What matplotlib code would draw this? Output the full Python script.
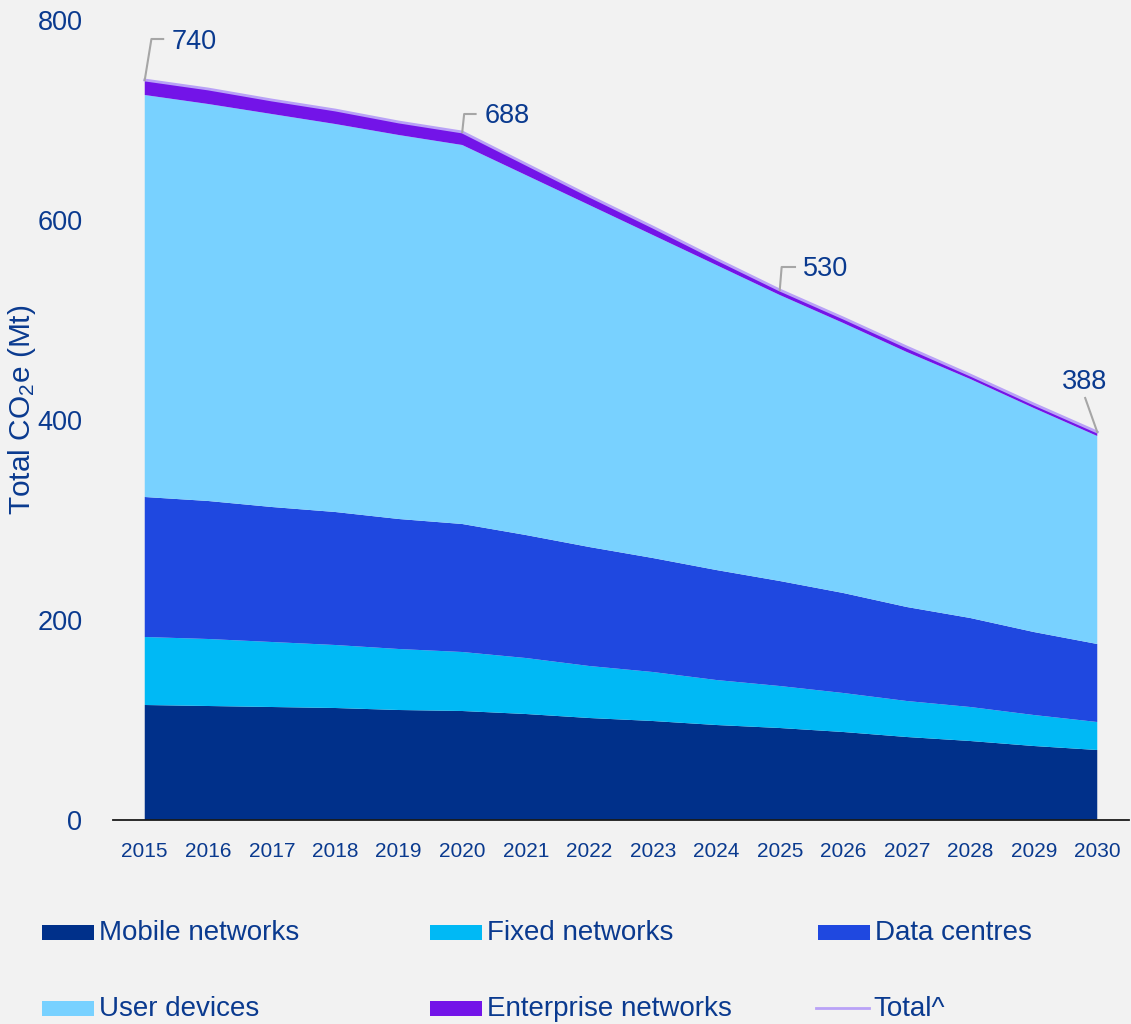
import matplotlib
matplotlib.use('Agg')
import matplotlib.pyplot as plt
from matplotlib.patches import Rectangle
from matplotlib.lines import Line2D

plt.rcParams['font.family'] = ['Liberation Sans', 'DejaVu Sans']
plt.rcParams['mathtext.fontset'] = 'custom'
plt.rcParams['mathtext.rm'] = 'Liberation Sans'
plt.rcParams['mathtext.it'] = 'Liberation Sans'

years = list(range(2015, 2031))
mobile = [115, 114, 113, 112, 110, 109, 106, 102, 99, 95, 92, 88, 83, 79, 74, 70]
fixed = [68, 67, 65, 63, 61, 59, 56, 52, 49, 45, 42, 39, 36, 34, 31, 28]
data_centres = [140, 138, 135, 133, 130, 128, 123, 119, 114, 110, 105, 100, 94, 89, 83, 78]
user_devices = [402, 397, 393, 388, 384, 379, 360, 342, 323, 305, 286, 270, 255, 239, 224, 208]
enterprise = [15, 15, 14, 14, 13, 13, 11, 9, 8, 6, 5, 5, 5, 4, 4, 4]
total = [740, 731, 720, 710, 698, 688, 656, 624, 593, 561, 530, 502, 473, 445, 416, 388]

labelled_years = [2015, 2020, 2025, 2030]
labelled_values = [740, 688, 530, 388]

series_names = ['Mobile networks', 'Fixed networks', 'Data centres',
                'User devices', 'Enterprise networks']
colors = ['#00308A', '#00B9F5', '#1F48E0', '#78D1FF', '#7314E8']
total_color = '#B9A2F7'
text_color = '#0A3A8F'
bg = '#F2F2F2'

W, H = 1131, 1024
fig = plt.figure(figsize=(W / 100, H / 100), dpi=100, facecolor=bg)
ax = fig.add_axes([113 / W, 1 - 820 / H, (1129 - 113) / W, 800 / H])
ax.set_facecolor(bg)

ax.stackplot(years, mobile, fixed, data_centres, user_devices, enterprise,
             colors=colors, linewidth=0, antialiased=True)
ax.plot(years, total, color=total_color, lw=2.0, solid_joinstyle='round')

ax.set_xlim(2014.5, 2030.5)
ax.set_ylim(0, 800)
ax.set_xticks(years)
ax.set_xticklabels([str(y) for y in years], fontsize=15, color=text_color)
ax.set_yticks([0, 200, 400, 600, 800])
ax.set_yticklabels(['0', '200', '400', '600', '800'], fontsize=19.5, color=text_color)
ax.tick_params(axis='both', length=0)
ax.tick_params(axis='x', pad=16)
ax.tick_params(axis='y', pad=22)
for s in ['left', 'right', 'top']:
    ax.spines[s].set_visible(False)
ax.spines['bottom'].set_color('#1a1a1a')
ax.spines['bottom'].set_linewidth(1.3)

fig.text(22 / W, 1 - 410 / H, r'Total CO$_2$e (Mt)', rotation=90,
         ha='center', va='center', fontsize=21.5, color=text_color)

# annotations with leader lines
lead = '#A6A6A6'
ann = {
    2015: dict(mid=(2015.105, 781), end=(2015.29, 781), txt=(2015.42, 778), ha='left'),
    2020: dict(mid=(2020.03, 706), end=(2020.21, 706), txt=(2020.36, 704), ha='left'),
    2025: dict(mid=(2025.03, 553), end=(2025.24, 553), txt=(2025.36, 551), ha='left'),
    2030: dict(mid=(2029.81, 422), end=None, txt=(2029.8, 438), ha='center'),
}
for yr, val in zip(labelled_years, labelled_values):
    a = ann[yr]
    xs = [yr, a['mid'][0]]
    ys = [val, a['mid'][1]]
    if a['end'] is not None:
        xs.append(a['end'][0])
        ys.append(a['end'][1])
    ax.plot(xs, ys, color=lead, lw=1.5, clip_on=False, zorder=5)
    ax.text(a['txt'][0], a['txt'][1], str(val), ha=a['ha'], va='center',
            fontsize=19.5, color=text_color, clip_on=False)

# legend drawn in figure pixels
legend_items = [
    ('patch', colors[0], series_names[0], 42, 932),
    ('patch', colors[1], series_names[1], 430, 932),
    ('patch', colors[2], series_names[2], 818, 932),
    ('patch', colors[3], series_names[3], 42, 1008),
    ('patch', colors[4], series_names[4], 430, 1008),
    ('line', total_color, 'Total^', 816, 1008),
]
for kind, c, name, x0, yc in legend_items:
    if kind == 'patch':
        fig.add_artist(Rectangle((x0 / W, 1 - (yc + 7.5) / H), 52 / W, 15 / H,
                                 transform=fig.transFigure, facecolor=c,
                                 edgecolor='none'))
    else:
        fig.add_artist(Line2D([x0 / W, (x0 + 53) / W], [1 - yc / H, 1 - yc / H],
                              transform=fig.transFigure, color=c, lw=2.0))
    fig.text((x0 + 57) / W, 1 - (yc + 1) / H, name, ha='left', va='center',
             fontsize=20, color=text_color)

fig.savefig('out.png', dpi=100, facecolor=bg)
